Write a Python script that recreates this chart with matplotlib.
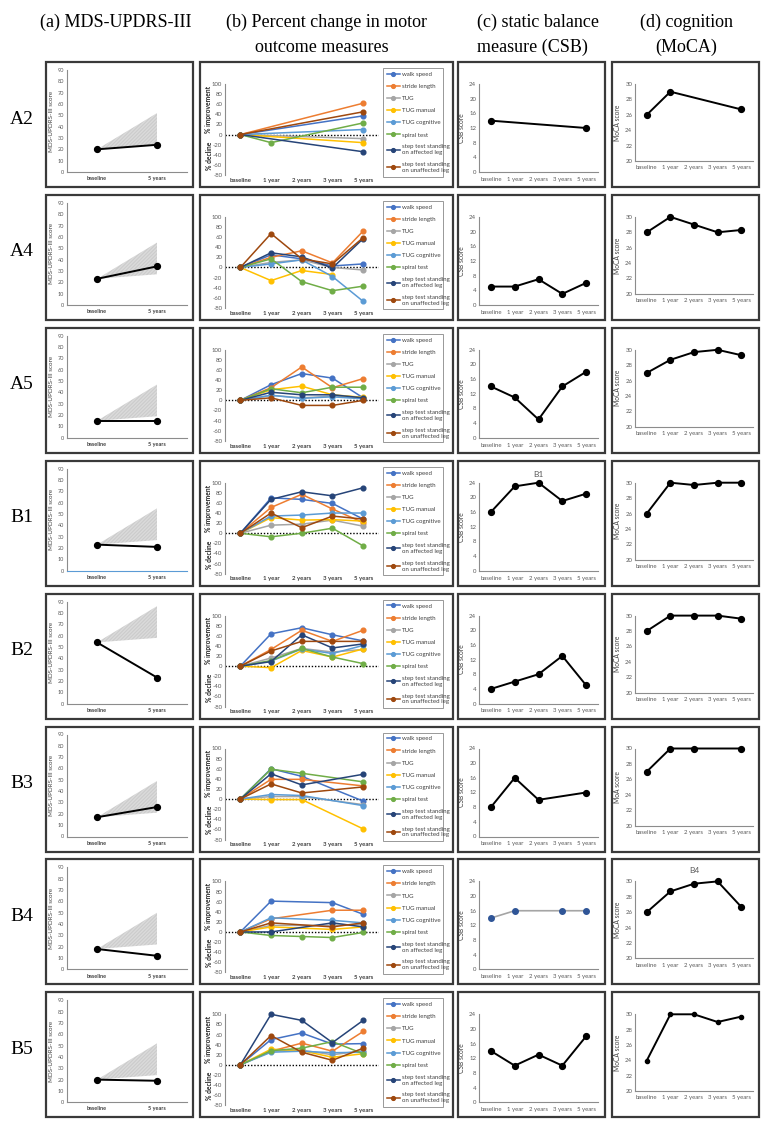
import numpy as np
import matplotlib
matplotlib.use("Agg")
import matplotlib.pyplot as plt
from matplotlib.patches import Rectangle

nan = np.nan
W, H = 763, 1121

row_names = ["A2", "A4", "A5", "B1", "B2", "B3", "B4", "B5"]
time_labels = ["baseline", "1 year", "2 years", "3 years", "5 years"]
mds_labels = ["baseline", "5 years"]

# (a) MDS-UPDRS-III scores and the hatched expected-progression band at 5 years
mds_baseline = [20, 23, 15, 23, 54, 17, 18, 20]
mds_5y = [24, 34, 15, 21, 23, 26, 12, 19]
mds_band_low = [24, 27, 19, 27, 58, 21, 22, 24]
mds_band_high = [52, 55, 47, 55, 86, 49, 50, 52]

# (b) percent change per measure, one list per participant row
walk_speed = [
    [0, nan, nan, nan, 37], [0, 25, 17, 3, 7], [0, 31, 53, 44, 5], [0, 70, 67, 59, 28],
    [0, 64, 76, 62, 50], [0, 60, 45, nan, -4], [0, 61, nan, 58, 35], [0, 50, 63, 41, 42],
]
stride_length = [
    [0, nan, nan, nan, 62], [0, 20, 33, 9, 72], [0, 25, 66, 25, 43], [0, 51, 77, 48, 21],
    [0, 33, 71, 49, 71], [0, 39, 39, nan, 26], [0, 26, nan, 43, 43], [0, 27, 43, 27, 66],
]
tug = [
    [0, nan, nan, nan, -8], [0, 10, 15, 0, -5], [0, 10, 5, 8, 5], [0, 16, 18, 26, 14],
    [0, 16, 35, 28, 33], [0, 5, 5, nan, -11], [0, 13, nan, 13, 15], [0, 27, 29, 20, 28],
]
tug_manual = [
    [0, nan, nan, nan, -16], [0, -26, -6, -14, nan], [0, 21, 28, 11, 6], [0, 31, 26, 27, 24],
    [0, -3, 31, 18, 34], [0, -1, -1, nan, -59], [0, 10, nan, 5, 10], [0, 31, 28, 15, 22],
]
tug_cognitive = [
    [0, nan, nan, nan, 10], [0, 7, 15, -18, -67], [0, 10, 4, 7, 3], [0, 34, 36, 40, 40],
    [0, 10, 34, 25, 41], [0, 9, 7, nan, -13], [0, 28, nan, 23, 18], [0, 25, 27, 24, 25],
]
spiral_test = [
    [0, -16, nan, nan, 23], [0, 17, -28, -46, -37], [0, 23, 15, 26, 26], [0, -7, 0, 10, -25],
    [0, 11, 35, 18, 5], [0, 59, 51, nan, 34], [0, -7, -9, -11, -1], [0, 28, 33, 46, 22],
]
step_affected = [
    [0, nan, nan, nan, -34], [0, 29, 21, -1, 57], [0, 16, 11, 11, 5], [0, 67, 82, 74, 90],
    [0, 9, 62, 36, 44], [0, 50, 28, nan, 49], [0, 0, nan, 18, 10], [0, 100, 88, 44, 88],
]
step_unaffected = [
    [0, nan, nan, nan, 45], [0, 67, 17, 7, 59], [0, 5, -10, -10, 0], [0, 40, 11, 34, 28],
    [0, 30, 49, 49, 49], [0, 30, 12, nan, 24], [0, 18, nan, 10, 18], [0, 58, 25, 9, 33],
]
measure_names = ["walk speed", "stride length", "TUG", "TUG manual", "TUG cognitive",
                 "spiral test", "step test standing\non affected leg",
                 "step test standing\non unaffected leg"]
measure_colors = ["#4472C4", "#ED7D31", "#A5A5A5", "#FFC000", "#5B9BD5", "#70AD47",
                  "#264478", "#9E480E"]

# (c) CSB and (d) MoCA scores
csb = [
    [14, nan, nan, nan, 12], [5, 5, 7, 3, 6], [14, 11, 5, 14, 18], [16, 23, 24, 19, 21],
    [4, 6, 8, 13, 5], [8, 16, 10, nan, 12], [14, 16, nan, 16, 16], [14, 10, 13, 10, 18],
]
moca = [
    [26, 29, nan, nan, 26.7], [28, 30, 29, 28, 28.3], [27, 28.7, 29.7, 30, 29.3],
    [26, 30, 29.7, 30, 30], [28, 30, 30, 30, 29.6], [27, 30, 30, nan, 30],
    [26, 28.7, 29.7, 30, 26.7], [24, 30, 30, 29, 29.7],
]

motor = [walk_speed, stride_length, tug, tug_manual, tug_cognitive, spiral_test,
         step_affected, step_unaffected]
show_pct_label = [True, False, False, True, True, True, True, True]
moca_ylabels = ["MoCA score"] * 5 + ["MoA score"] + ["MoCA score"] * 2

SANS = "Lato"
TICK_COLOR = "#595959"
AXIS_COLOR = "#8C8C8C"

plt.rcParams["hatch.linewidth"] = 0.3
plt.rcParams["axes.unicode_minus"] = False

fig = plt.figure(figsize=(W / 100, H / 100), dpi=100)


def add_px_axes(x0, y0, x1, y1):
    return fig.add_axes([x0 / W, 1 - y1 / H, (x1 - x0) / W, (y1 - y0) / H])


def style_axes(ax, fs=4.3):
    for side in ["top", "right"]:
        ax.spines[side].set_visible(False)
    for side in ["left", "bottom"]:
        ax.spines[side].set_color(AXIS_COLOR)
        ax.spines[side].set_linewidth(0.8)
    ax.tick_params(length=0, labelsize=fs, colors=TICK_COLOR, pad=2)
    for lab in ax.get_xticklabels() + ax.get_yticklabels():
        lab.set_fontfamily(SANS)
    ax.patch.set_alpha(0)


def plot_gapped(ax, values, **kw):
    y = np.asarray(values, dtype=float)
    x = np.arange(len(y))
    ok = ~np.isnan(y)
    ax.plot(x[ok], y[ok], clip_on=False, **kw)


# column headers
header_font = dict(family="Liberation Serif", fontsize=13, ha="center", va="center")
fig.text(116 / W, 1 - 22 / H, "(a) MDS-UPDRS-III", **header_font)
fig.text(327 / W, 1 - 22 / H, "(b) Percent change in motor", **header_font)
fig.text(322 / W, 1 - 47 / H, "outcome measures", **header_font)
fig.text(538 / W, 1 - 22 / H, "(c) static balance", **header_font)
fig.text(532 / W, 1 - 47 / H, "measure (CSB)", **header_font)
fig.text(686 / W, 1 - 22 / H, "(d) cognition", **header_font)
fig.text(686 / W, 1 - 47 / H, "(MoCA)", **header_font)

col_bounds = [(46, 193), (200, 453), (458, 605), (612, 759)]

for i, name in enumerate(row_names):
    top = 62 + i * 132.9
    bottom = top + 125

    fig.text(22 / W, 1 - (top + 57) / H, name, family="Liberation Serif",
             fontsize=14, ha="center", va="center")

    for x0, x1 in col_bounds:
        fig.add_artist(Rectangle((x0 / W, 1 - bottom / H), (x1 - x0) / W, 125 / H,
                                 transform=fig.transFigure, fill=False,
                                 edgecolor="#3A3A3A", linewidth=1.6))

    # (a) MDS-UPDRS-III
    ax = add_px_axes(67, top + 8, 187, top + 110)
    ax.fill_between([0, 1], [mds_baseline[i], mds_band_low[i]],
                    [mds_baseline[i], mds_band_high[i]],
                    facecolor="none", edgecolor="#9A9A9A", hatch="/" * 24,
                    linewidth=0)
    ax.plot([0, 1], [mds_baseline[i], mds_5y[i]], color="black", lw=1.4,
            marker="o", ms=4.2, zorder=3)
    ax.set_xlim(-0.5, 1.5)
    ax.set_ylim(0, 90)
    ax.set_yticks(range(0, 91, 10))
    ax.set_xticks([0, 1])
    ax.set_xticklabels(mds_labels)
    style_axes(ax, fs=4.0)
    ax.tick_params(axis="x", pad=3)
    for lab in ax.get_xticklabels():
        lab.set_fontweight("bold")
        lab.set_color("#404040")
    if name == "B1":
        ax.spines["bottom"].set_color("#5B9BD5")
    ax.set_ylabel("MDS-UPDRS-III score", fontsize=4.5, family=SANS,
                  color="#404040", labelpad=3)

    # (b) percent change in motor outcome measures
    ax = add_px_axes(225, top + 22, 378.5, top + 113)
    ax.axhline(0, color="black", lw=1.0, ls=(0, (1, 1.3)), zorder=1)
    handles = []
    for series, label, color in zip(motor, measure_names, measure_colors):
        plot_gapped(ax, series[i], color=color, lw=1.1, marker="o", ms=3.4,
                    label=label, zorder=3)
        handles.append(ax.lines[-1])
    ax.set_xlim(-0.5, 4.5)
    ax.set_ylim(-80, 100)
    ax.set_yticks(range(-80, 101, 20))
    ax.set_xticks(range(5))
    ax.set_xticklabels(time_labels)
    style_axes(ax, fs=4.3)
    ax.spines["bottom"].set_visible(False)
    ax.tick_params(axis="x", pad=2)
    for lab in ax.get_xticklabels():
        lab.set_fontweight("bold")
        lab.set_color("#404040")
    if show_pct_label[i]:
        for txt, yv in [("% improvement", 50), ("% decline", -42)]:
            ax.text(-16 / 153.5, yv, txt, transform=ax.get_yaxis_transform(),
                    rotation=90, ha="center", va="center", fontsize=4.8,
                    fontweight="bold", family=SANS, color="#262626")
    leg = ax.legend(handles=handles, loc="upper left",
                    bbox_to_anchor=(383 / W, 1 - (top + 122) / H, 60 / W, 116 / H),
                    bbox_transform=fig.transFigure, mode="expand", borderaxespad=0,
                    prop=dict(family=SANS, size=4.4), handlelength=2.2,
                    handletextpad=0.3, labelspacing=1.12, borderpad=0.6,
                    frameon=True, fancybox=False, markerscale=0.8)
    leg.get_frame().set_edgecolor("#7F7F7F")
    leg.get_frame().set_linewidth(0.7)
    for t in leg.get_texts():
        t.set_color("#404040")

    # (c) CSB
    ax = add_px_axes(479, top + 22, 598, top + 110)
    if name == "B4":
        plot_gapped(ax, csb[i], color="#A5A5A5", lw=1.2, marker="o", ms=4,
                    mfc="#2F5597", mec="#2F5597")
    else:
        plot_gapped(ax, csb[i], color="black", lw=1.4, marker="o", ms=4.2)
    ax.set_xlim(-0.5, 4.5)
    ax.set_ylim(0, 24)
    ax.set_yticks(range(0, 25, 4))
    ax.set_xticks(range(5))
    ax.set_xticklabels(time_labels)
    style_axes(ax, fs=4.3)
    ax.tick_params(axis="x", pad=3.5)
    ax.set_ylabel("CSB score", fontsize=4.8, family=SANS, color="#404040", labelpad=3)
    if name == "B1":
        ax.set_title("B1", fontsize=6, family=SANS, color="#595959", pad=4)

    # (d) MoCA
    ax = add_px_axes(635, top + 22, 753, top + 99)
    ms = 3.0 if name == "B5" else 4.2
    plot_gapped(ax, moca[i], color="black", lw=1.4, marker="o", ms=ms)
    ax.set_xlim(-0.5, 4.5)
    ax.set_ylim(20, 30)
    ax.set_yticks(range(20, 31, 2))
    ax.set_xticks(range(5))
    ax.set_xticklabels(time_labels)
    style_axes(ax, fs=4.3)
    ax.tick_params(axis="x", pad=3)
    ax.set_ylabel(moca_ylabels[i], fontsize=4.8, family=SANS, color="#404040", labelpad=3)
    if name == "B4":
        ax.set_title("B4", fontsize=6, family=SANS, color="#595959", pad=6)

fig.savefig("out.png", dpi=100)
